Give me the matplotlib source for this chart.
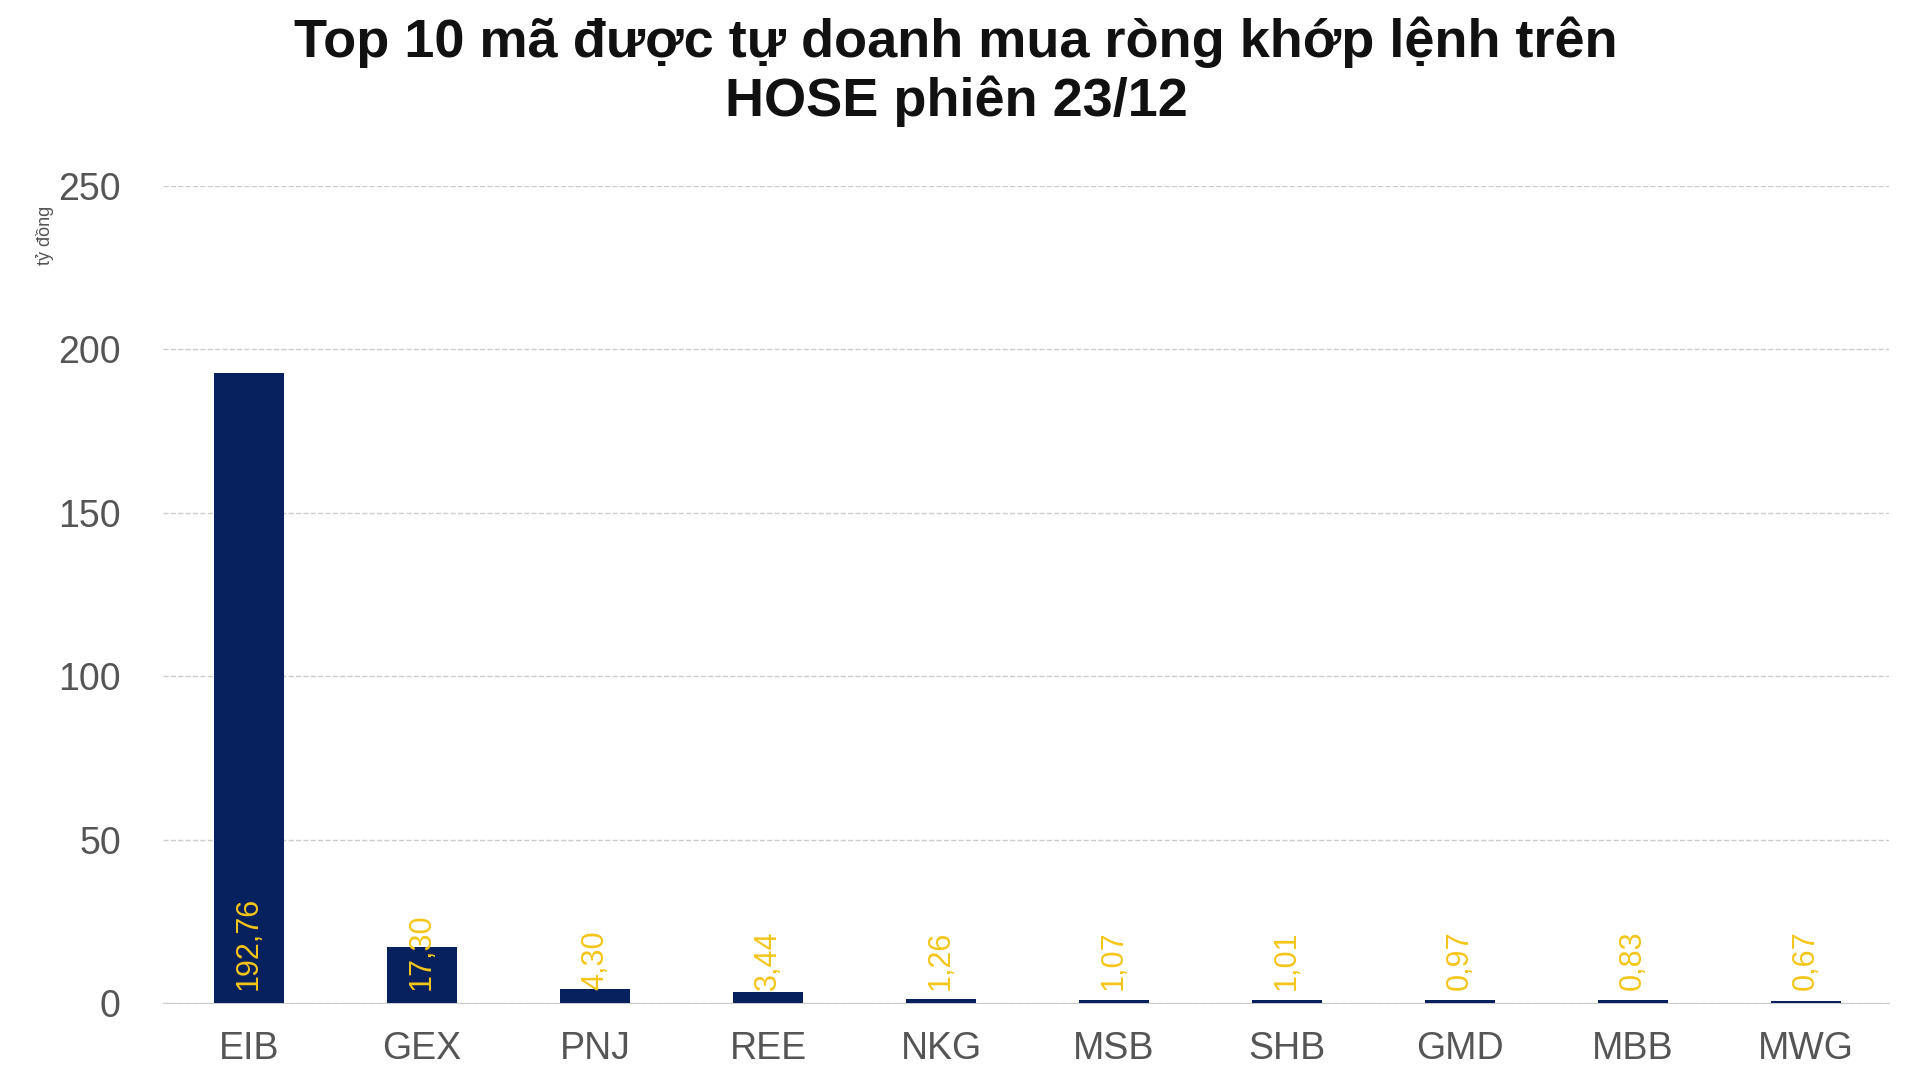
import matplotlib
matplotlib.use("Agg")
import matplotlib.pyplot as plt

categories = ["EIB", "GEX", "PNJ", "REE", "NKG", "MSB", "SHB", "GMD", "MBB", "MWG"]
values = [192.76, 17.30, 4.30, 3.44, 1.26, 1.07, 1.01, 0.97, 0.83, 0.67]
yticks = [0, 50, 100, 150, 200, 250]

plt.rcParams['font.family'] = ['Liberation Sans', 'DejaVu Sans']
fig = plt.figure(figsize=(19.12, 10.88), dpi=100)
ax = fig.add_axes([0.085, 0.078, 0.903, 0.751])
x = range(len(categories))
ax.bar(x, values, width=0.4, color="#06215E", zorder=3)
for i, v in enumerate(values):
    ax.text(i, 4, f"{v:.2f}".replace(".", ","), rotation=90, ha="center", va="bottom",
            color="#F5C518", fontsize=22, zorder=4)
ax.set_ylim(0, 250)
ax.set_xlim(-0.5, 9.48)
ax.set_yticks(yticks)
ax.set_xticks(list(x))
ax.set_xticklabels(categories)
ax.tick_params(axis="both", length=0, labelsize=27, colors="#555555")
ax.tick_params(axis="x", pad=20)
ax.tick_params(axis="y", pad=30)
ax.grid(axis="y", linestyle="--", color="#cccccc", linewidth=1, zorder=0)
for s in ["top", "right", "left"]:
    ax.spines[s].set_visible(False)
ax.spines["bottom"].set_color("#cccccc")
ax.text(-0.068, 0.94, "tỷ đồng", transform=ax.transAxes, rotation=90, ha="center", va="center",
        fontsize=13, color="#555555")
fig.suptitle("Top 10 mã được tự doanh mua ròng khớp lệnh trên\nHOSE phiên 23/12",
             fontsize=39, fontweight="bold", color="#111111", y=0.985, x=0.5, linespacing=1.2)
fig.savefig("out.png", dpi=100)
